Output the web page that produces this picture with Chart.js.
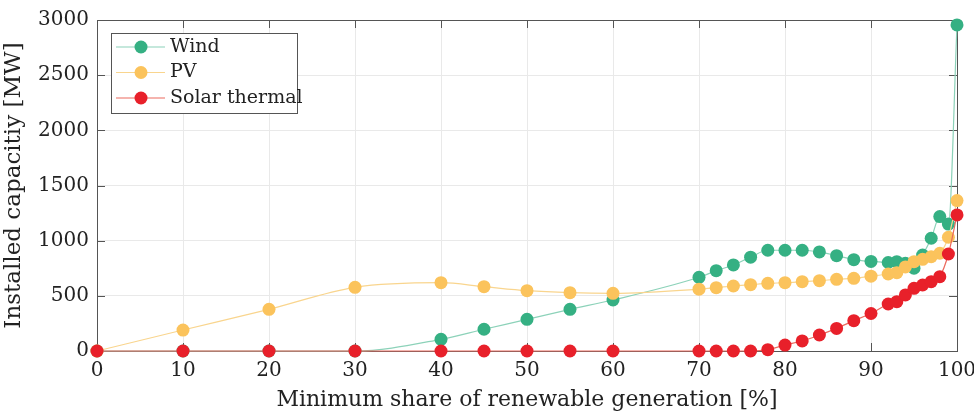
<!DOCTYPE html>
<html>
<head>
<meta charset="utf-8">
<script src="https://cdn.jsdelivr.net/npm/chart.js@4"></script>
<style>
  html, body { margin: 0; padding: 0; background: #fff; }
  #wrap { width: 974px; height: 417px; }
</style>
</head>
<body>
<div id="wrap"><canvas id="capChart" width="974" height="417"></canvas></div>
<script>
// minimum renewable share [%]
const share = [0, 10, 20, 30, 40, 45, 50, 55, 60, 70, 72, 74, 76, 78, 80, 82, 84, 86, 88, 90, 92, 93, 94, 95, 96, 97, 98, 99, 100];

// installed capacity [MW]
const wind = [0, 0, 0, 0, 106, 197, 287, 378, 462, 668, 728, 780, 850, 913, 913, 913, 898, 864, 828, 812, 802, 810, 795, 750, 870, 1022, 1218, 1150, 2955];
const pv = [0, 190, 378, 577, 619, 583, 547, 529, 523, 560, 574, 589, 601, 613, 619, 628, 637, 650, 659, 678, 698, 710, 762, 810, 831, 855, 886, 1031, 1363];
const solarThermal = [0, 0, 0, 0, 0, 0, 0, 0, 0, 0, 0, 0, 0, 12, 54, 91, 145, 205, 275, 340, 426, 447, 508, 568, 598, 628, 674, 879, 1233];

const xTicks = [0, 10, 20, 30, 40, 50, 60, 70, 80, 90, 100];
const yTicks = [0, 500, 1000, 1500, 2000, 2500, 3000];

const serif = "'DejaVu Serif', 'Liberation Serif', serif";
const axisColor = "#555";

function toPoints(ys) {
  return share.map((x, i) => ({ x: x, y: ys[i] }));
}

function series(label, ys, dot, line, order) {
  return {
    label: label,
    data: toPoints(ys),
    borderColor: line,
    backgroundColor: dot,
    pointBackgroundColor: dot,
    pointBorderColor: dot,
    pointRadius: 6.5,
    pointBorderWidth: 0,
    borderWidth: 1.2,
    cubicInterpolationMode: "monotone",
    clip: 8,
    order: order,
  };
}

// inner ticks + box on all four sides, like a MATLAB axes
const boxTicks = {
  id: "boxTicks",
  beforeDatasetsDraw(chart) {
    const { ctx, chartArea: a, scales } = chart;
    ctx.save();
    ctx.strokeStyle = axisColor;
    ctx.lineWidth = 1;
    ctx.strokeRect(a.left + 0.5, a.top + 0.5, a.right - a.left, a.bottom - a.top);
    const len = 8;
    ctx.beginPath();
    xTicks.forEach((v) => {
      const px = Math.round(scales.x.getPixelForValue(v)) + 0.5;
      ctx.moveTo(px, a.bottom); ctx.lineTo(px, a.bottom - len);
      ctx.moveTo(px, a.top); ctx.lineTo(px, a.top + len);
    });
    yTicks.forEach((v) => {
      const py = Math.round(scales.y.getPixelForValue(v)) + 0.5;
      ctx.moveTo(a.left, py); ctx.lineTo(a.left + len, py);
      ctx.moveTo(a.right, py); ctx.lineTo(a.right - len, py);
    });
    ctx.stroke();
    ctx.restore();
  },
};

// legend box in the upper left corner of the axes
const innerLegend = {
  id: "innerLegend",
  afterDraw(chart) {
    const { ctx, chartArea: a } = chart;
    const sets = chart.data.datasets;
    const x0 = a.left + 14, y0 = a.top + 13;
    const w = 186, rowH = 25.5, h = 80;
    ctx.save();
    ctx.fillStyle = "#fff";
    ctx.fillRect(x0, y0, w, h);
    ctx.strokeStyle = axisColor;
    ctx.lineWidth = 1;
    ctx.strokeRect(x0 + 0.5, y0 + 0.5, w, h);
    ctx.font = "19px " + serif;
    ctx.textBaseline = "middle";
    sets.forEach((ds, i) => {
      const cy = y0 + 14 + i * rowH;
      ctx.strokeStyle = ds.borderColor;
      ctx.lineWidth = 1.2;
      ctx.beginPath();
      ctx.moveTo(x0 + 5, cy); ctx.lineTo(x0 + 54, cy);
      ctx.stroke();
      ctx.fillStyle = ds.pointBackgroundColor;
      ctx.beginPath();
      ctx.arc(x0 + 30, cy, 6.5, 0, Math.PI * 2);
      ctx.fill();
      ctx.fillStyle = "#222";
      ctx.fillText(ds.label, x0 + 59, cy);
    });
    ctx.restore();
  },
};

new Chart(document.getElementById("capChart"), {
  type: "line",
  data: {
    datasets: [
      series("Wind", wind, "#35b083", "#8cd2b9", 3),
      series("PV", pv, "#fbc35c", "#f9d58e", 2),
      series("Solar thermal", solarThermal, "#e8202a", "#ec6a5e", 1),
    ],
  },
  options: {
    responsive: false,
    animation: false,
    layout: { padding: { top: 20, right: 17, left: 0, bottom: 0 } },
    plugins: {
      legend: { display: false },
      tooltip: { enabled: false },
    },
    scales: {
      x: {
        type: "linear",
        min: 0,
        max: 100,
        afterBuildTicks: (s) => { s.ticks = xTicks.map((v) => ({ value: v })); },
        afterFit: (s) => { s.height = 66; s.paddingRight = 0; s.paddingLeft = 0; },
        grid: { color: "#e9e9e9", drawTicks: false },
        border: { display: false },
        ticks: { color: "#222", padding: 8, font: { family: serif, size: 20 }, callback: (v) => String(v) },
        title: {
          display: true,
          text: "Minimum share of renewable generation [%]",
          color: "#222",
          padding: { top: 2, bottom: 4 },
          font: { family: serif, size: 22 },
        },
      },
      y: {
        min: 0,
        max: 3000,
        afterBuildTicks: (s) => { s.ticks = yTicks.map((v) => ({ value: v })); },
        afterFit: (s) => { s.width = 97; s.paddingTop = 0; s.paddingBottom = 0; },
        grid: { color: "#e9e9e9", drawTicks: false },
        border: { display: false },
        ticks: { color: "#222", padding: 8, font: { family: serif, size: 20 }, callback: (v) => String(v) },
        title: {
          display: true,
          text: "Installed capacitiy [MW]",
          color: "#222",
          padding: { top: 0, bottom: 4 },
          font: { family: serif, size: 23 },
        },
      },
    },
  },
  plugins: [boxTicks, innerLegend],
});
</script>
</body>
</html>
